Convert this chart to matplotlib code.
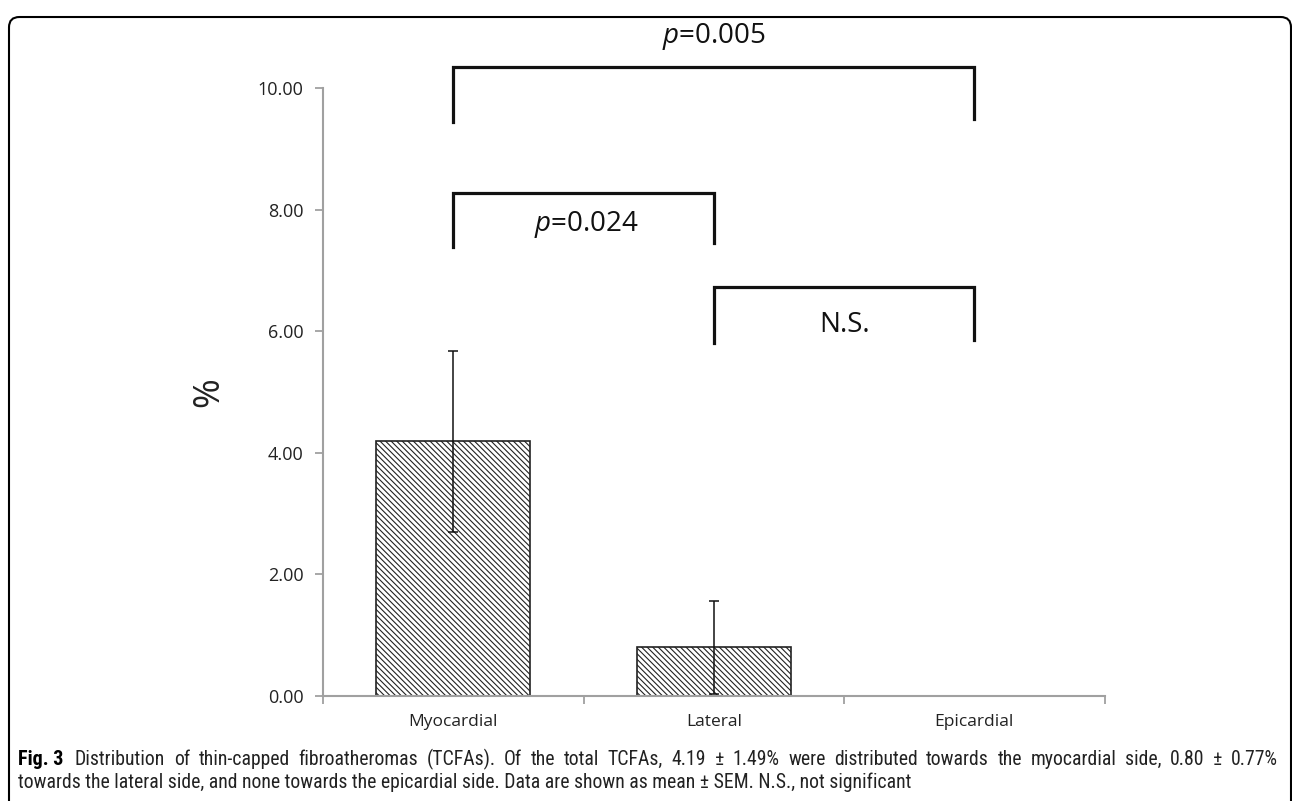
import matplotlib.pyplot as plt
from matplotlib.patches import FancyBboxPatch
from matplotlib.ticker import FormatStrFormatter

categories = ["Myocardial", "Lateral", "Epicardial"]
means = [4.19, 0.80, 0.0]
sems = [1.49, 0.77, 0.0]

# significance brackets: (left cat, right cat, top, left leg end, right leg end, label, label x, label y)
brackets = [
    (0, 2, 10.35, 9.45, 9.50, "$\\it{p}$=0.005", 1.0, 10.85),
    (0, 1, 8.27, 7.38, 7.45, "$\\it{p}$=0.024", 0.51, 7.75),
    (1, 2, 6.73, 5.80, 5.85, "N.S.", 1.5, 6.10),
]

caption_1 = ("Distribution of thin-capped fibroatheromas (TCFAs). Of the total TCFAs, "
             "4.19 ± 1.49% were distributed towards the myocardial side, 0.80 ± 0.77%")
caption_2 = ("towards the lateral side, and none towards the epicardial side. "
             "Data are shown as mean ± SEM. N.S., not significant")

plt.rcParams['font.family'] = ['Open Sans', 'DejaVu Sans']
plt.rcParams['mathtext.fontset'] = 'custom'
plt.rcParams['mathtext.it'] = 'Open Sans:italic'
plt.rcParams['mathtext.rm'] = 'Open Sans'
plt.rcParams['hatch.linewidth'] = 0.8

fig = plt.figure(figsize=(12.92, 8.01), dpi=100)
ax = fig.add_axes([0.25, 0.131, 0.605, 0.759])

x = list(range(len(categories)))
ax.bar(x, means, width=0.59, color='white', edgecolor='#222222',
       linewidth=1.2, hatch='\\' * 6, zorder=2)
ax.errorbar([0, 1], means[:2], yerr=sems[:2], fmt='none', ecolor='#111111',
            elinewidth=1.1, capsize=3.5, capthick=1.1, zorder=3)

ax.set_xlim(-0.5, 2.5)
ax.set_ylim(0, 10)
ax.set_yticks([0, 2, 4, 6, 8, 10])
ax.yaxis.set_major_formatter(FormatStrFormatter('%.2f'))
ax.set_xticks(x)
ax.set_xticklabels(categories)
ax.set_xticks([-0.5, 0.5, 1.5, 2.5], minor=True)
ax.tick_params(axis='x', which='major', length=0, pad=13, labelsize=12.5, labelcolor='#222222')
ax.tick_params(axis='x', which='minor', length=6, width=1.3, color='#a0a0a0', direction='out')
ax.tick_params(axis='y', length=6, width=1.3, color='#a0a0a0', pad=8, labelsize=13,
               labelcolor='#222222')

for s in ['top', 'right']:
    ax.spines[s].set_visible(False)
for s in ['left', 'bottom']:
    ax.spines[s].set_color('#a0a0a0')
    ax.spines[s].set_linewidth(1.5)

ax.set_ylabel('%', fontsize=26, labelpad=22, color='#222222')

for l, r, top, lb, rb, label, tx, ty in brackets:
    ax.plot([l, l, r, r], [lb, top, top, rb], color='#111111', lw=2.3,
            clip_on=False, solid_joinstyle='miter')
    ax.text(tx, ty, label, ha='center', va='center', fontsize=20, color='#111111')

# caption, first line justified between x=75px and x=1278px
cap_font = ['Roboto Condensed', 'Liberation Sans Narrow', 'Roboto']
cap_size = 14.2
y1, y2 = 1 - 765 / 801, 1 - 788 / 801
fig.text(18 / 1292, y1, "Fig. 3", fontsize=cap_size + 0.3, fontweight='bold',
         va='baseline', family=cap_font)
renderer = fig.canvas.get_renderer()
words = caption_1.split(' ')
items = [fig.text(0, y1, w, fontsize=cap_size, va='baseline', family=cap_font,
                  color='#222222') for w in words]
widths = [t.get_window_extent(renderer).width for t in items]
x0, x1 = 75, 1278
gap = (x1 - x0 - sum(widths)) / (len(words) - 1)
pos = x0
for t, w in zip(items, widths):
    t.set_x(pos / 1292)
    pos += w + gap
fig.text(18 / 1292, y2, caption_2, fontsize=cap_size, va='baseline', family=cap_font,
         color='#222222')

frame = FancyBboxPatch((9 / 1292, -0.05), (1291 - 9) / 1292, 1.04 - 9 / 801,
                       boxstyle='round,pad=0,rounding_size=0.008',
                       transform=fig.transFigure, fill=False, edgecolor='black',
                       linewidth=1.5, mutation_aspect=1292 / 801)
fig.patches.append(frame)

plt.savefig('out.png', dpi=100)
